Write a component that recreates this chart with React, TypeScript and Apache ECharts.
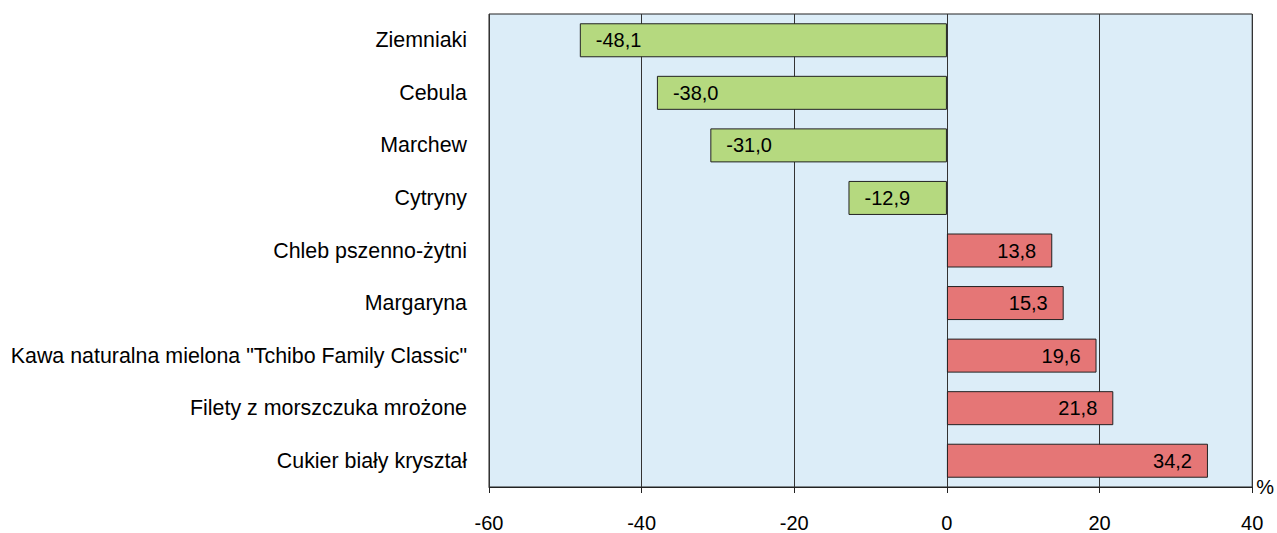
import React, { useEffect, useRef } from "react";
import * as echarts from "echarts";

const categories = [
  "Ziemniaki",
  "Cebula",
  "Marchew",
  "Cytryny",
  "Chleb pszenno-żytni",
  "Margaryna",
  'Kawa naturalna mielona "Tchibo Family Classic"',
  "Filety z morszczuka mrożone",
  "Cukier biały kryształ",
];
const values = [-48.1, -38.0, -31.0, -12.9, 13.8, 15.3, 19.6, 21.8, 34.2];
const axisMin = -60;
const axisMax = 40;
const axisInterval = 20;
const unitLabel = "%";

export default function App() {
  const ref = useRef<HTMLDivElement>(null);
  useEffect(() => {
    if (!ref.current) return;
    const chart = echarts.init(ref.current, undefined, { renderer: "svg" });
    const font = "'Liberation Sans', Arial, sans-serif";
    const fs = 20;
    chart.setOption({
      animation: false,
      textStyle: { fontFamily: font },
      grid: {
        left: 489,
        right: 23,
        top: 14,
        bottom: 44,
        show: true,
        backgroundColor: "#dcedf8",
        borderColor: "#222",
        borderWidth: 1,
      },
      xAxis: {
        type: "value",
        min: axisMin,
        max: axisMax,
        interval: axisInterval,
        name: unitLabel,
        nameLocation: "end",
        nameGap: 4,
        nameTextStyle: { color: "#000", fontSize: fs, fontFamily: font, verticalAlign: "middle" },
        axisLine: { show: true, lineStyle: { color: "#222", width: 1 } },
        axisTick: { show: true, length: 6, lineStyle: { color: "#222" } },
        axisLabel: { color: "#000", fontSize: fs, margin: 26, fontFamily: font },
        splitLine: { show: true, lineStyle: { color: "#333", width: 1 } },
      },
      yAxis: {
        type: "category",
        data: categories,
        inverse: true,
        axisLine: { show: false },
        axisTick: { show: false },
        axisLabel: { color: "#000", fontSize: 21.4, margin: 22, fontFamily: font },
        splitLine: { show: false },
      },
      series: [
        {
          type: "bar",
          barWidth: 34,
          data: values.map((v) => ({
            value: v,
            itemStyle: {
              color: v < 0 ? "#b5d97f" : "#e57676",
              borderColor: "#222",
              borderWidth: 1,
            },
            label: {
              show: true,
              position: v < 0 ? "insideLeft" : "insideRight",
              distance: 16,
              color: "#000",
              fontSize: fs,
              fontFamily: font,
              formatter: () => v.toFixed(1).replace(".", ","),
            },
          })),
        },
      ],
    });
    return () => chart.dispose();
  }, []);
  return (
    <div
      ref={ref}
      style={{ position: "fixed", left: 0, top: 0, width: 1277, height: 533, background: "#fff" }}
    />
  );
}
